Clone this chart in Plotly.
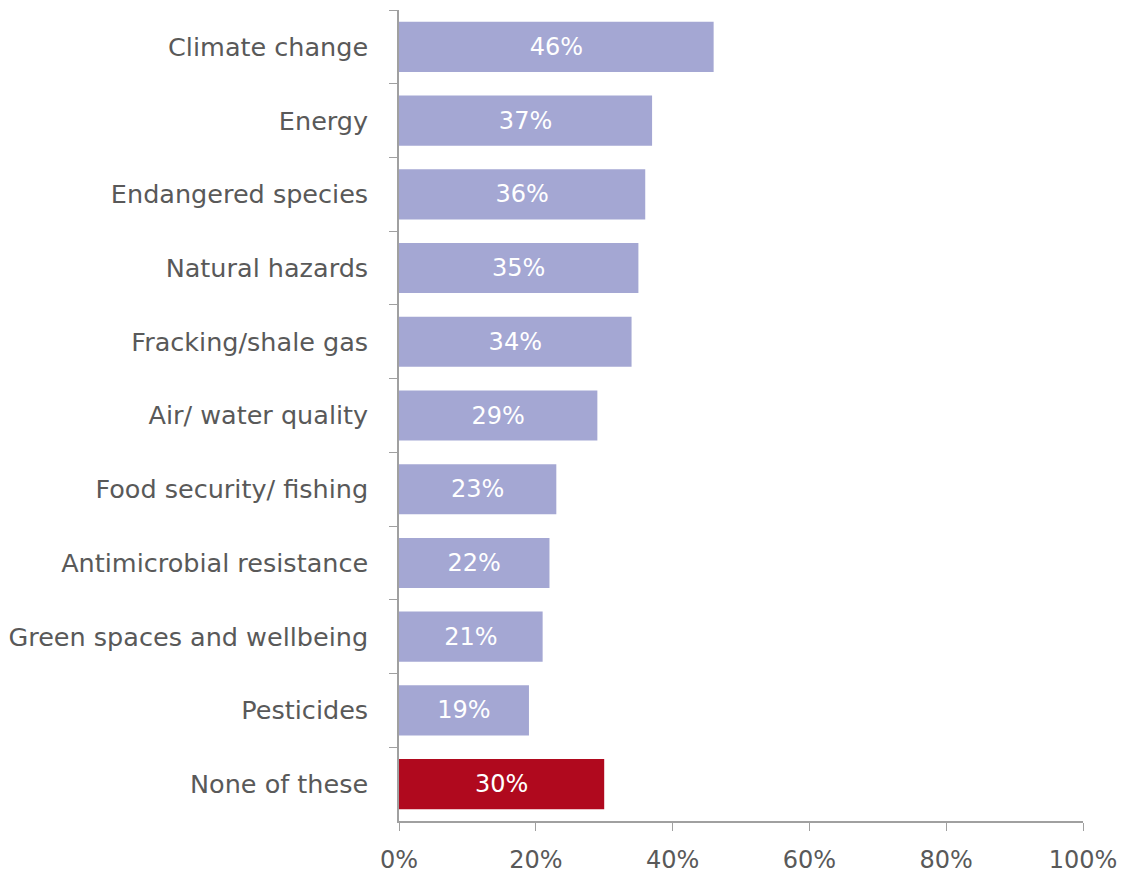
import plotly.graph_objects as go

categories = ["Climate change", "Energy", "Endangered species", "Natural hazards",
              "Fracking/shale gas", "Air/ water quality", "Food security/ fishing",
              "Antimicrobial resistance", "Green spaces and wellbeing", "Pesticides",
              "None of these"]
values = [46, 37, 36, 35, 34, 29, 23, 22, 21, 19, 30]
colors = ["#a4a7d3"] * 10 + ["#b0091e"]
x_ticks = [0, 20, 40, 60, 80, 100]
x_tick_labels = ["0%", "20%", "40%", "60%", "80%", "100%"]

font_family = "DejaVu Sans, Verdana, sans-serif"

fig = go.Figure(go.Bar(
    y=categories,
    x=values,
    orientation="h",
    marker=dict(color=colors, line=dict(width=0)),
    text=[f"{v}%" for v in values],
    textposition="inside",
    insidetextanchor="middle",
    textfont=dict(color="white", size=24, family=font_family),
    width=0.68,
))

fig.update_layout(
    width=1132, height=873,
    margin=dict(l=399, r=49, t=10, b=52),
    paper_bgcolor="white", plot_bgcolor="white",
    showlegend=False,
    font=dict(family=font_family, color="#595959", size=24),
)
fig.update_yaxes(
    autorange="reversed", automargin=False,
    showline=True, linecolor="#a0a0a0", linewidth=1.5,
    ticks="outside", tickson="boundaries", ticklen=8, tickcolor="#a0a0a0",
    ticklabelstandoff=24,
    showgrid=False,
    tickfont=dict(size=25.5, color="#595959"),
)
fig.update_xaxes(
    range=[0, 100], automargin=False,
    tickvals=x_ticks, ticktext=x_tick_labels,
    showline=True, linecolor="#a0a0a0", linewidth=1.5,
    ticks="outside", ticklen=8, tickcolor="#a0a0a0",
    ticklabelstandoff=8,
    showgrid=False, zeroline=False,
    tickfont=dict(size=24, color="#595959"),
)

fig.write_html("out.html")
